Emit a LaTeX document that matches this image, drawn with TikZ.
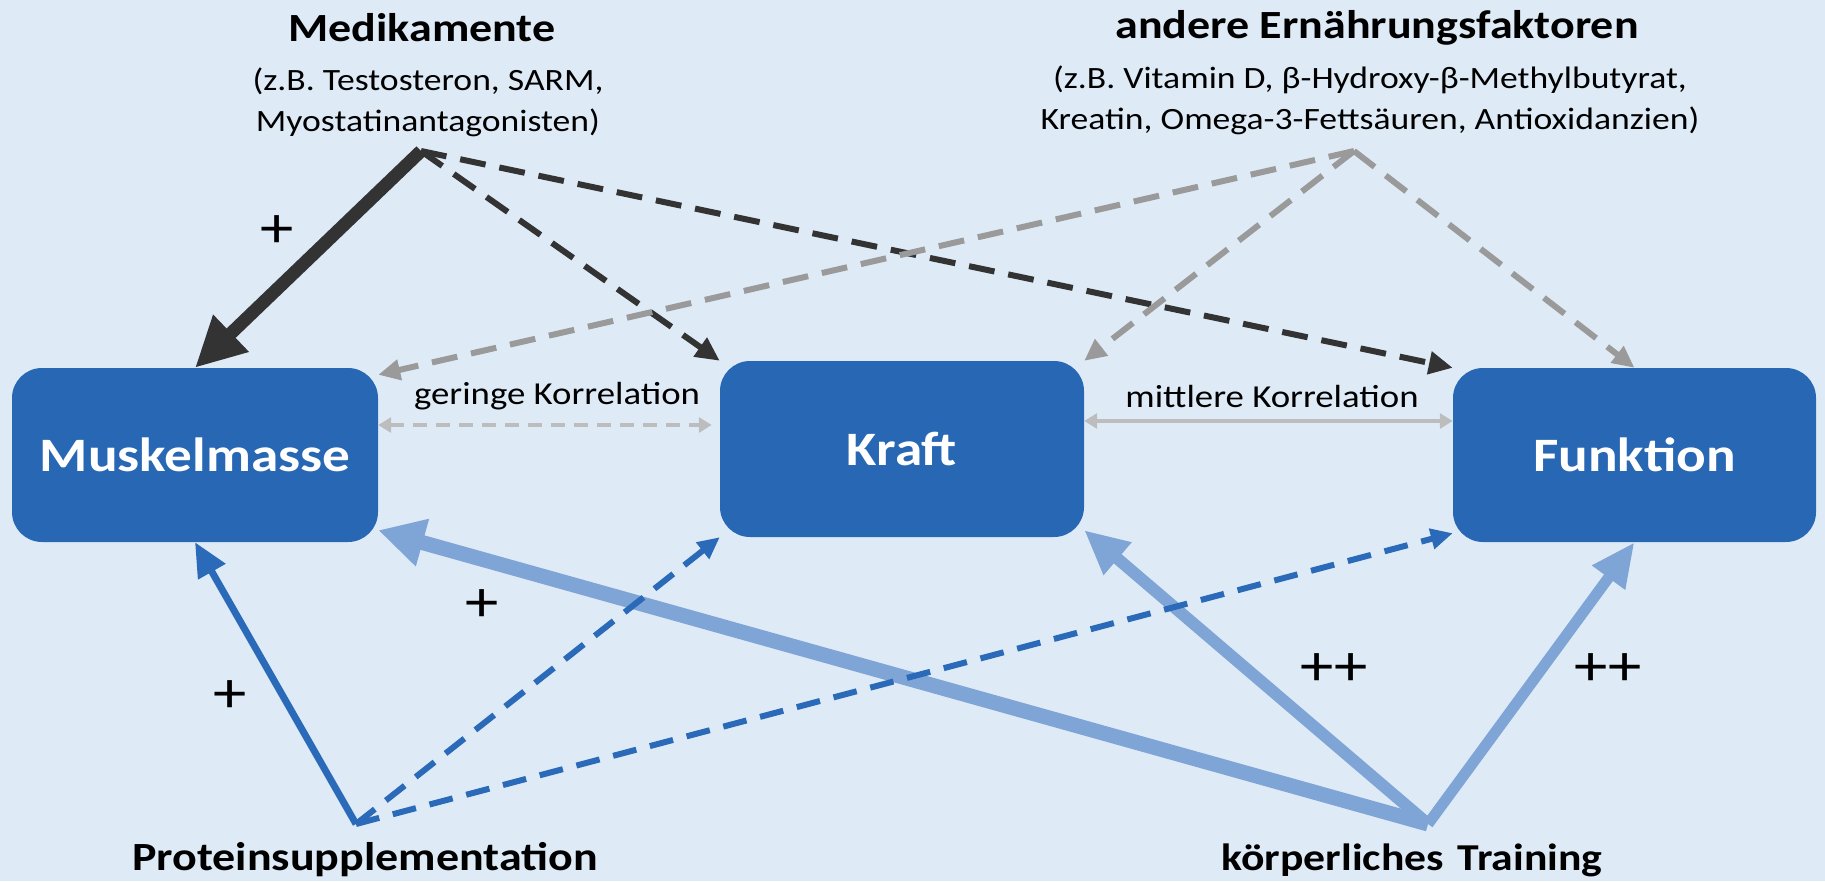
\documentclass[tikz,border=0pt]{standalone}
\usepackage{fontspec}
\setmainfont{Carlito}[FakeStretch=1.15]
\usetikzlibrary{arrows.meta}
\definecolor{bgblue}{HTML}{DEEBF7}
\definecolor{boxblue}{HTML}{2767B4}
\definecolor{darkarr}{HTML}{333333}
\definecolor{grayarr}{HTML}{9A9A9A}
\definecolor{corrgray}{HTML}{BDBDBD}
\definecolor{protblue}{HTML}{2A6AB8}
\definecolor{trainblue}{HTML}{7FA4D6}
\tikzset{
  box/.style={fill=boxblue, rounded corners=30pt, text=white, inner sep=0pt,
    font=\fontsize{48}{54}\selectfont\bfseries},
  title/.style={font=\fontsize{40}{46}\selectfont\bfseries, inner sep=0pt},
  subtitle/.style={font=\fontsize{31}{41}\selectfont, align=center, inner sep=0pt},
  corrlabel/.style={font=\fontsize{32}{36}\selectfont, inner sep=0pt},
  sign/.style={font=\fontsize{58}{60}\selectfont, inner sep=0pt},
  darkdash/.style={draw=darkarr, line width=6pt, dash pattern=on 26pt off 14pt,
    -{Triangle[length=24pt,width=22pt]}},
  graydash/.style={draw=grayarr, line width=6pt, dash pattern=on 26pt off 14pt,
    -{Triangle[length=22pt,width=20pt]}},
  protdash/.style={draw=protblue, line width=6pt, dash pattern=on 24pt off 14pt,
    -{Triangle[length=22pt,width=20pt]}},
}
\begin{document}
\begin{tikzpicture}[x=1pt,y=-1pt]
\fill[bgblue] (0,0) rectangle (1825,881);
\useasboundingbox (0,0) rectangle (1825,881);

% boxes
\node[box, minimum width=366pt, minimum height=174pt] (M) at (195,455) {Muskelmasse};
\node[box, minimum width=364pt, minimum height=176pt] (K) at (902,449) {Kraft};
\node[box, minimum width=363pt, minimum height=174pt] (F) at (1634.5,455) {Funktion};

% source labels
\node[title] (medt) at (422,28) {Medikamente};
\node[subtitle] (meds) at (428,102) {(z.B. Testosteron, SARM,\\Myostatinantagonisten)};
\node[title] (ernt) at (1377,28) {andere Ernährungsfaktoren};
\node[subtitle] (erns) at (1370,100) {(z.B. Vitamin D, β-Hydroxy-β-Methylbutyrat,\\Kreatin, Omega-3-Fettsäuren, Antioxidanzien)};
\node[title] (prott) at (365,860) {Proteinsupplementation};
\node[title, font=\fontsize{38}{44}\selectfont\bfseries] (traint) at (1412,860) {körperliches\hspace{0.1em} Training};

% arrow origins
\coordinate (medo) at (421,151);
\coordinate (erno) at (1354,151);
\coordinate (proto) at (356,824);
\coordinate (traino) at (1428,824);

% training arrows
\draw[draw=trainblue, line width=15pt, -{Triangle[length=46pt,width=46pt]}] (traino) -- ([yshift=12pt]M.south east);
\draw[draw=trainblue, line width=12pt, -{Triangle[length=44pt,width=40pt]}] (traino) -- ([yshift=7pt]K.south east);
\draw[draw=trainblue, line width=11pt, -{Triangle[length=44pt,width=38pt]}] (traino) -- (F.south);

% protein arrows
\draw[draw=protblue, line width=7pt, -{Triangle[length=34pt,width=30pt]}] (proto) -- (M.south);
\draw[protdash] (proto) -- (K.south west);
\draw[protdash] (proto) -- ([yshift=9pt]F.south west);

% medication arrows
\draw[darkdash] (medo) -- (K.north west);
\draw[darkdash] (medo) -- (F.north west);
\draw[draw=darkarr, line width=13pt, -{Triangle[length=50pt,width=48pt]}] (medo) -- (M.north);

% nutrition arrows
\draw[graydash] (erno) -- ([yshift=-7pt]M.north east);
\draw[graydash] (erno) -- (K.north east);
\draw[graydash] (erno) -- (F.north);

% correlations
\draw[draw=corrgray, line width=4pt, dash pattern=on 14pt off 9pt,
  {Triangle[length=13pt,width=15pt]}-{Triangle[length=13pt,width=15pt]}, shorten >=8pt]
  ([yshift=30pt]M.east) -- ([yshift=24pt]K.west);
\draw[draw=corrgray, line width=4pt,
  {Triangle[length=13pt,width=15pt]}-{Triangle[length=13pt,width=15pt]}]
  ([yshift=28pt]K.east) -- ([yshift=34pt]F.west);
\node[corrlabel] (gk) at (557,396) {geringe Korrelation};
\node[corrlabel] (mk) at (1272,397) {mittlere Korrelation};

% signs
\node[sign] (s1) at (277,232) {+};
\node[sign] (s2) at (482,606) {+};
\node[sign] (s3) at (230,697) {+};
\node[sign] (s4) at (1334,670) {++};
\node[sign] (s5) at (1608,670) {++};
\end{tikzpicture}
\end{document}
